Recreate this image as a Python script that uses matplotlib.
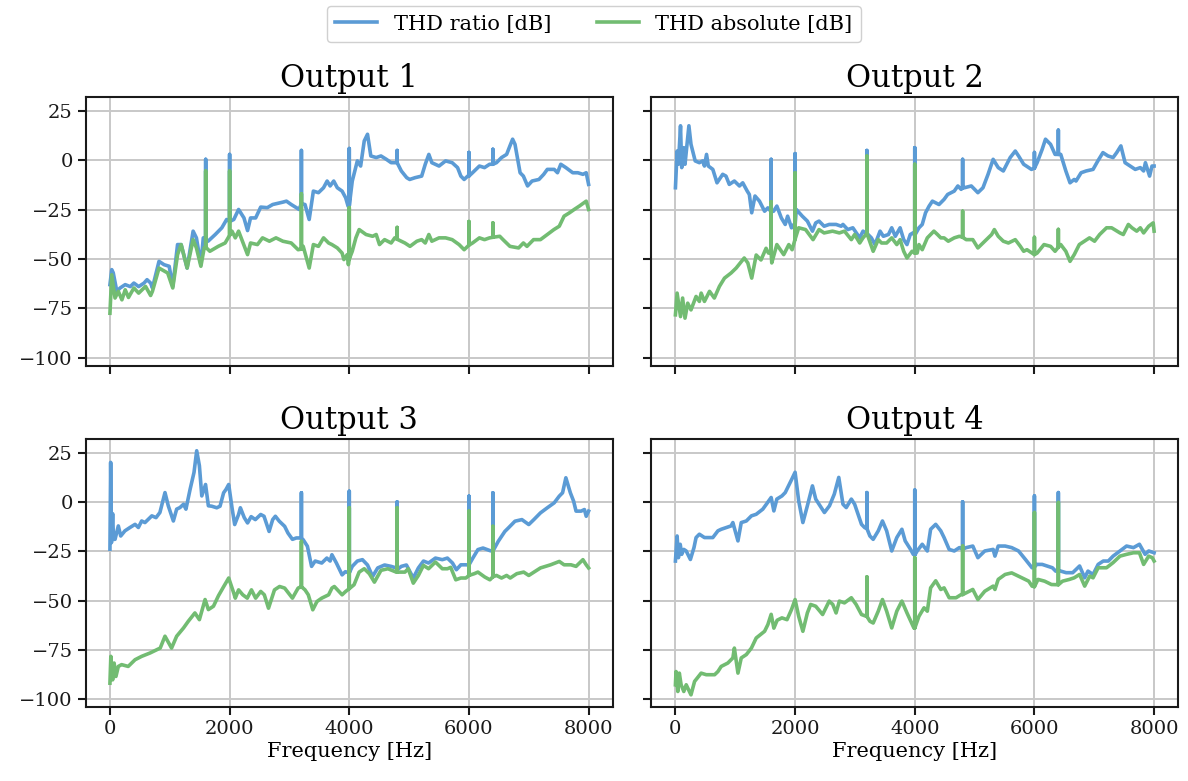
import matplotlib
matplotlib.use("Agg")
import matplotlib.pyplot as plt

plt.rcParams.update({
    "font.family": ["DejaVu Serif"],
    "axes.edgecolor": "#1a1a1a",
    "axes.linewidth": 1.5,
    "grid.color": "#c8c8c8",
    "grid.linewidth": 1.4,
    "xtick.major.width": 1.5,
    "ytick.major.width": 1.5,
    "xtick.major.size": 6,
    "ytick.major.size": 6,
    "xtick.labelsize": 14,
    "ytick.labelsize": 14,
    "xtick.color": "#1a1a1a",
    "ytick.color": "#1a1a1a",
})

BLUE = "#5b9bd5"
GREEN = "#72bc72"

TITLES = ["Output 1", "Output 2", "Output 3", "Output 4"]
SERIES_LABELS = ["THD ratio [dB]", "THD absolute [dB]"]
X_TICKS = [0, 2000, 4000, 6000, 8000]
Y_TICKS = [25, 0, -25, -50, -75, -100]

# ---- Output 1 ----
out1_ratio_f = [0, 30, 55, 115, 170, 255, 340, 400, 480, 570, 620, 680, 710, 820, 905, 990, 1050, 1130, 1190,
                1290, 1390, 1445, 1520, 1560, 1600, 1600, 1600, 1640, 1760, 1870, 1950, 2000, 2000, 2000, 2070,
                2150, 2240, 2300, 2350, 2435, 2520, 2630, 2720, 2890, 2950, 3030, 3115, 3160, 3200, 3200, 3200,
                3260, 3330, 3400, 3485, 3570, 3630, 3680, 3740, 3800, 3880, 3940, 3980, 4000, 4000, 4000, 4050,
                4135, 4190, 4250, 4305, 4360, 4450, 4530, 4620, 4700, 4790, 4800, 4800, 4800, 4870, 4960, 5010,
                5100, 5210, 5270, 5330, 5380, 5500, 5610, 5720, 5810, 5865, 5920, 5980, 6000, 6000, 6000, 6060,
                6175, 6260, 6345, 6400, 6400, 6400, 6460, 6545, 6630, 6685, 6730, 6770, 6855, 6910, 6980, 7055,
                7170, 7250, 7310, 7425, 7480, 7535, 7620, 7735, 7820, 7905, 7960, 8000]
out1_ratio_v = [-63, -55.4, -57, -66.4, -64.7, -63, -64, -62.2, -64, -62.2, -60.5, -62.2, -64.7, -51.2, -52.9,
                -53.7, -63.9, -42.7, -42.7, -54.6, -35.9, -39.3, -52.9, -39.3, -40, 0.5, -40, -41, -37.6, -34.2,
                -30, -31, 3, -31, -30, -24.9, -29.2, -35.6, -29.2, -29.2, -23.7, -24, -22.4, -21.2, -20.7, -22.4,
                -24, -24.9, -22, 5, -22, -22.4, -30, -15.6, -16.4, -13.9, -10.5, -13, -10.5, -13.9, -15.6, -19,
                -23.2, -23, 6, -23, -10.5, -0.3, -2.9, 9.8, 13.2, 2.2, 1.4, 2.2, 0.5, -1.2, -1.2, -1.2, 5, -1.2,
                -5.4, -8.8, -9.7, -8.8, -8, -2, 3, -1.2, -2.9, -0.3, -1.2, -3.7, -8, -9.7, -8, -8, 4, -8, -6.3,
                -2.9, -3.7, -2, -2, 5.6, -2, -1.2, 1.4, 3, 7.3, 10.7, 8.1, -6.3, -8, -13, -10.5, -9.7, -7.1, -4.6,
                -4.6, -6.3, -2, -3.7, -6.3, -6.3, -7.1, -6.3, -12.2]
out1_abs_f = [0, 30, 85, 140, 200, 255, 310, 400, 480, 595, 680, 710, 820, 965, 1050, 1130, 1190, 1290, 1390,
              1445, 1520, 1575, 1600, 1600, 1600, 1670, 1810, 1925, 2000, 2000, 2000, 2040, 2095, 2150, 2300,
              2350, 2465, 2550, 2665, 2775, 2890, 3030, 3145, 3200, 3200, 3200, 3230, 3330, 3400, 3485, 3570,
              3655, 3710, 3800, 3880, 3910, 3965, 3985, 4000, 4000, 4000, 4050, 4110, 4165, 4280, 4390, 4450,
              4505, 4590, 4700, 4760, 4800, 4800, 4800, 4930, 5015, 5130, 5210, 5270, 5330, 5380, 5500, 5610,
              5720, 5835, 5920, 6000, 6000, 6000, 6060, 6175, 6260, 6345, 6400, 6400, 6400, 6515, 6570, 6685,
              6830, 6910, 6970, 7080, 7195, 7310, 7420, 7510, 7590, 7680, 7760, 7845, 7960, 8000]
out1_abs_v = [-77.5, -58, -69.8, -66.4, -70.7, -65.6, -69.5, -64.7, -67.3, -63.9, -68.5, -66.4, -54.6, -57.1,
              -64.7, -47.8, -42.7, -54.6, -40.2, -44.4, -53.7, -44.4, -44, -5.4, -44, -46.1, -43.6, -41.9, -38,
              -5.4, -38, -35.9, -39.3, -35.9, -47.8, -41.9, -42.7, -39.3, -41, -39.3, -41, -41.9, -45.3, -45, -17,
              -45, -43.6, -54.6, -42.7, -43.6, -39.3, -41.9, -42.7, -44.4, -47, -50.3, -47.8, -52.9, -50, -24,
              -50, -46.1, -39.3, -35.1, -37.6, -38.5, -37.6, -42.7, -40.2, -41.9, -39.3, -40, -34, -40, -41.9,
              -43.6, -41, -40.2, -41.9, -37.6, -41, -39.3, -39.3, -40.2, -42.7, -45.3, -43, -31, -43, -41.9,
              -39.3, -40.2, -39.3, -39, -31.7, -39, -38.5, -40.2, -43.6, -44.4, -41.9, -43.6, -40.2, -40.2,
              -37.6, -35.1, -33.4, -28.3, -26.6, -24.9, -23.2, -20.7, -24.9]

# ---- Output 2 ----
out2_ratio_f = [0, 28, 50, 85, 105, 140, 160, 225, 260, 330, 400, 455, 485, 520, 550, 625, 695, 790, 845, 900,
                985, 1070, 1125, 1200, 1235, 1275, 1330, 1405, 1490, 1545, 1600, 1600, 1600, 1640, 1695, 1770,
                1835, 1875, 1940, 1980, 2000, 2000, 2000, 2020, 2120, 2205, 2290, 2345, 2400, 2485, 2570, 2685,
                2770, 2800, 2880, 2965, 3080, 3135, 3180, 3200, 3200, 3200, 3275, 3335, 3420, 3475, 3560, 3615,
                3675, 3755, 3815, 3870, 3925, 3970, 4000, 4000, 4000, 4070, 4125, 4180, 4240, 4295, 4405, 4490,
                4550, 4660, 4720, 4775, 4800, 4800, 4800, 4830, 4945, 5055, 5140, 5225, 5310, 5395, 5480, 5595,
                5680, 5735, 5820, 5950, 6000, 6000, 6000, 6045, 6130, 6185, 6270, 6345, 6400, 6400, 6400, 6440,
                6525, 6595, 6665, 6695, 6780, 6865, 6980, 7060, 7145, 7230, 7315, 7375, 7445, 7515, 7600, 7685,
                7770, 7825, 7855, 7925, 7965, 8000]
out2_ratio_v = [-13.9, 4.7, -2, 17.5, -3.7, 6.4, -2, 17.5, 8.1, -0.3, -1.2, -0.3, -2.9, 3, -2.9, -4.6, -11.4,
                -7.1, -8, -12.2, -10.5, -13, -11.4, -15.6, -17.3, -26.6, -18.1, -20.7, -25.8, -24.1, -26, 0.5,
                -26, -25.8, -23.2, -29.2, -32.5, -28.3, -34.2, -32.5, -33, 3.4, -33, -24.9, -28.3, -30.8, -35.9,
                -31.7, -30.8, -33.4, -32.5, -32.5, -33.4, -32.5, -35.1, -34.2, -39.3, -35.9, -36.8, -37, 5, -37,
                -39.3, -42.7, -35.9, -38.5, -37.6, -34.2, -38.5, -34.2, -40.2, -42.7, -37.6, -36.8, -38, 6.4, -38,
                -34.2, -32.5, -26.6, -23.2, -20.7, -22.4, -19.8, -17.3, -15.6, -13, -14.7, -14, 0.5, -14, -13.9,
                -13, -16.4, -13.9, -7.1, 0.5, -3.7, -5.4, 1.4, 4.7, 2.2, -2, -4.6, -4, 4, -4, -1.2, 5.6, 10.7,
                8.1, 3, 3, 15.3, 3, 3, -5.4, -11.4, -9.7, -10.5, -6.3, -5.4, -4.6, -0.3, 3.9, 2.2, 1.4, 3.9, 7.3,
                -1.2, -2.9, -4.6, -3.7, -5.4, -1.2, -8, -2.9, -2.9]
out2_abs_f = [0, 28, 85, 120, 160, 205, 260, 345, 400, 430, 485, 570, 650, 735, 820, 930, 1015, 1150, 1210,
              1275, 1350, 1430, 1515, 1555, 1600, 1600, 1600, 1610, 1695, 1810, 1895, 1950, 2000, 2000, 2000,
              2060, 2175, 2300, 2400, 2485, 2625, 2740, 2825, 2940, 2995, 3080, 3135, 3200, 3200, 3200, 3305,
              3390, 3445, 3530, 3615, 3700, 3755, 3815, 3870, 3955, 4000, 4000, 4000, 4040, 4070, 4125, 4210,
              4320, 4380, 4435, 4490, 4560, 4660, 4745, 4800, 4800, 4800, 4860, 4970, 5055, 5170, 5285, 5330,
              5395, 5480, 5565, 5680, 5765, 5820, 5875, 6000, 6000, 6000, 6045, 6160, 6270, 6345, 6400, 6400,
              6400, 6440, 6525, 6595, 6665, 6750, 6835, 6920, 7005, 7090, 7205, 7290, 7430, 7485, 7570, 7630,
              7710, 7770, 7825, 7910, 7985, 8000]
out2_abs_v = [-78.3, -67.3, -79.2, -69.8, -80, -72.4, -75.8, -69, -71.5, -67.3, -71.5, -66.4, -69.8, -63.9,
              -59.7, -57.1, -54.6, -49.5, -52, -59.7, -48, -50.5, -44.6, -47, -47, -21, -47, -52, -42.7, -47.8,
              -42.7, -45.3, -40, -6.3, -40, -34.2, -35.1, -40.2, -35.1, -36.8, -35.9, -36.8, -35.9, -40.2, -37.6,
              -41.9, -39.3, -37, 2.2, -37, -46.1, -40.2, -41.9, -41.9, -39.3, -42.7, -40.2, -46.1, -49.5, -46.1,
              -47, -2, -47, -47, -42.7, -45.3, -39.3, -35.9, -37.6, -39.3, -39.3, -41, -39.3, -38.5, -39, -25.8,
              -39, -40.2, -40.2, -44.4, -41, -37.6, -35.1, -38.5, -41, -41.9, -40.2, -43.6, -46.1, -45.3, -47.8,
              -39, -47.8, -47, -42.7, -43.6, -46.1, -44, -35, -44, -42.7, -46.1, -51.2, -47.8, -42.7, -41, -39.3,
              -41, -37.6, -34.2, -34.2, -36.8, -37.6, -32.5, -34.2, -35.9, -34.2, -36.8, -33.4, -31.7, -35.9]

# ---- Output 3 ----
out3_ratio_f = [0, 12, 25, 45, 60, 85, 140, 180, 250, 335, 420, 475, 530, 585, 700, 770, 835, 920, 975, 1060,
                1115, 1170, 1230, 1270, 1340, 1405, 1450, 1495, 1535, 1598, 1645, 1700, 1785, 1840, 1900, 1940,
                1985, 2040, 2085, 2150, 2180, 2245, 2300, 2360, 2430, 2520, 2575, 2660, 2720, 2765, 2830, 2920,
                2975, 3050, 3115, 3170, 3200, 3200, 3200, 3230, 3300, 3370, 3430, 3540, 3625, 3680, 3710, 3785,
                3880, 3935, 4000, 4000, 4000, 4050, 4135, 4220, 4305, 4390, 4475, 4590, 4700, 4785, 4800, 4800,
                4800, 4870, 4955, 5070, 5155, 5240, 5325, 5440, 5555, 5640, 5725, 5790, 5865, 5950, 6000, 6000,
                6000, 6065, 6150, 6235, 6350, 6400, 6400, 6400, 6490, 6600, 6660, 6770, 6885, 7000, 7085, 7195,
                7310, 7425, 7510, 7565, 7620, 7695, 7750, 7790, 7875, 7930, 7960, 8000]
out3_ratio_v = [-24, 20, -20.7, -6, -19, -19, -12.2, -17.3, -14.7, -13, -11.4, -13, -9.7, -10.5, -7.1, -8,
                -5.4, 4.7, -2, -9.7, -3.7, -2.9, -1.2, -3.7, 6.4, 14.9, 25.9, 18.3, 3, 8.8, -2, -2.2, -3, -2.2,
                4.6, 6.3, 8.8, -3, -11.5, -6.4, -3, -8, -10.7, -7.5, -9, -6.4, -7.3, -15, -9, -7.3, -9.8, -12.4,
                -15.8, -19, -18.3, -18.3, -18.5, 4.6, -18.5, -19.2, -22.5, -32.7, -30, -31, -28.5, -30, -26.8,
                -31, -37, -35.4, -36, 5.4, -36, -32.7, -30, -29.3, -32, -37.8, -33.5, -32, -32.7, -33.5, -34.4, 0,
                -34.4, -32.7, -32, -38.6, -33.5, -30, -31, -28.5, -29.3, -28.5, -31, -34.4, -31.9, -31.9, -32,
                2.9, -32, -28.5, -24.2, -23.4, -24.7, -25, 4.6, -25, -20, -15, -13.2, -9.8, -9, -11.5, -9, -5.6,
                -3, -0.5, 2.9, 4.6, 12.2, 4.6, 0.3, -4.7, -4.7, -3.9, -7.3, -4.7]
out3_abs_f = [0, 15, 45, 70, 100, 140, 195, 305, 420, 530, 670, 840, 920, 1030, 1115, 1230, 1310, 1420, 1495,
              1590, 1645, 1730, 1815, 1900, 1985, 2070, 2095, 2150, 2220, 2295, 2365, 2435, 2520, 2580, 2650,
              2750, 2835, 2920, 3050, 3145, 3200, 3200, 3200, 3260, 3315, 3390, 3460, 3540, 3655, 3710, 3750,
              3880, 3940, 4000, 4000, 4000, 4080, 4165, 4250, 4335, 4420, 4530, 4645, 4785, 4800, 4800, 4800,
              4930, 4985, 5070, 5155, 5240, 5325, 5440, 5555, 5640, 5695, 5780, 5865, 5950, 6000, 6000, 6000,
              6090, 6150, 6265, 6350, 6400, 6400, 6400, 6460, 6545, 6630, 6690, 6800, 6915, 7000, 7195, 7365,
              7510, 7590, 7705, 7790, 7905, 7960, 8000]
out3_abs_v = [-91.9, -78.3, -90.2, -81.7, -88.5, -83.4, -82.5, -83.4, -80, -78.3, -76.6, -74.1, -68.1, -74.1,
              -68.1, -63.9, -60.5, -56.3, -59.7, -49.5, -54.6, -52.9, -47.5, -43, -38.6, -46.3, -48.8, -44.6,
              -47.1, -48.8, -44.6, -48.8, -45.4, -47.1, -53.9, -44.6, -42.9, -43.7, -48.8, -43.7, -43, -20, -43,
              -44.6, -47.1, -54.7, -50.5, -48.8, -47.1, -43.7, -42.9, -47.1, -45.4, -44, -3, -44, -42, -35.6,
              -33.9, -36.4, -40.7, -34.7, -33.9, -35.6, -35.6, -3, -35.6, -35.6, -33.9, -41.2, -37.3, -32.2,
              -33.9, -30.5, -33.9, -33.9, -33.2, -39.5, -38.6, -38.6, -37.3, -4.7, -37.3, -36.4, -35.6, -38.1,
              -39.5, -38, -12.4, -38, -37.3, -38.6, -37.3, -38.6, -36.4, -35.6, -37.3, -33.5, -31.9, -30.2,
              -31.9, -31.9, -32.7, -29.3, -31.9, -33.5]

# ---- Output 4 ----
out4_ratio_f = [0, 28, 50, 80, 105, 140, 180, 250, 310, 345, 400, 485, 625, 710, 765, 930, 960, 1045, 1100,
                1185, 1270, 1350, 1460, 1520, 1600, 1645, 1695, 1780, 1835, 1890, 1945, 2000, 2060, 2130, 2205,
                2290, 2345, 2400, 2490, 2575, 2655, 2730, 2800, 2855, 2940, 2995, 3110, 3165, 3200, 3200, 3200,
                3250, 3305, 3390, 3460, 3530, 3615, 3700, 3785, 3840, 3930, 3975, 4000, 4000, 4000, 4040, 4125,
                4210, 4265, 4350, 4435, 4490, 4575, 4660, 4745, 4800, 4800, 4800, 4860, 4970, 5055, 5170, 5310,
                5340, 5395, 5510, 5620, 5735, 5850, 5960, 6000, 6000, 6000, 6040, 6130, 6210, 6300, 6355, 6400,
                6400, 6400, 6440, 6530, 6640, 6725, 6755, 6840, 6895, 6980, 7065, 7150, 7235, 7315, 7430, 7540,
                7655, 7755, 7850, 7910, 8000]
out4_ratio_v = [-30, -17.3, -28.3, -21.5, -26.6, -24.1, -24.9, -29.2, -23.2, -18.1, -16.4, -18.1, -18.1,
                -14.7, -13.9, -12.2, -10.5, -19.8, -10.5, -9.7, -7.1, -6.3, -3.7, -1.2, 2.2, -4.6, 1.4, 3, 4.7,
                8.1, 11.5, 15, 0.5, -10.5, -2, 8.1, 1.4, -1.2, -5.4, -2, 3.9, 12.4, -1.2, -2.9, 1.4, -1.2, -11.4,
                -13.1, -13.5, 4.7, -13.5, -17.3, -19, -14.7, -9.7, -14.7, -24.9, -18.1, -13.9, -19.8, -24.1,
                -26.6, -27, 6, -27, -24.9, -21.5, -24.9, -13.9, -11.4, -14.7, -18.1, -24.1, -24.9, -23.2, -24, 0,
                -24, -23.2, -22.4, -28.3, -24.9, -24.1, -27.5, -22.4, -22.4, -23.2, -24.9, -29.2, -33.4, -33, 3,
                -33, -31.7, -31.7, -32.5, -33.4, -35.1, -35, 4.7, -35, -35.1, -35.9, -35.9, -33.4, -32.5, -38.5,
                -35.1, -36.8, -31.7, -30, -30, -27.5, -24.9, -22.4, -23.2, -21.5, -26.6, -24.9, -25.8]
out4_abs_f = [0, 10, 40, 65, 95, 140, 180, 260, 320, 430, 515, 655, 710, 765, 875, 960, 985, 1045, 1100, 1185,
              1270, 1350, 1490, 1545, 1600, 1645, 1700, 1780, 1865, 1940, 2000, 2060, 2130, 2205, 2260, 2345,
              2460, 2570, 2630, 2685, 2740, 2825, 2940, 3020, 3110, 3190, 3200, 3200, 3200, 3250, 3305, 3390,
              3460, 3530, 3615, 3700, 3785, 3870, 3985, 4000, 4000, 4000, 4070, 4155, 4210, 4265, 4350, 4435,
              4490, 4575, 4690, 4775, 4800, 4800, 4800, 4860, 4970, 5055, 5170, 5310, 5340, 5395, 5510, 5620,
              5790, 5905, 5960, 6000, 6000, 6000, 6060, 6170, 6285, 6400, 6400, 6400, 6470, 6585, 6665, 6755,
              6840, 6925, 6980, 7065, 7205, 7315, 7430, 7540, 7655, 7755, 7825, 7910, 7970, 8000]
out4_abs_v = [-92.7, -86, -96.1, -86.8, -92.7, -96.1, -92.7, -97.8, -91, -86.8, -87.6, -87.6, -86, -83.4,
              -81.7, -79.1, -74.1, -86.8, -79.1, -77.4, -74.1, -69, -65.6, -62.2, -57, -64, -60, -58.8, -59.7,
              -54.6, -49.5, -58, -65.6, -56.3, -52, -52.9, -57.1, -50.3, -52, -56.3, -50.3, -51.2, -48.6, -52,
              -57.1, -58, -58, -38, -58, -60.5, -61.4, -55.4, -49.5, -55.4, -63.9, -55.4, -50.3, -56.3, -63.9,
              -64, -28.3, -64, -58, -53.7, -55.4, -43.6, -40, -44.4, -43.6, -48.6, -48.6, -47, -47, -22.4, -47,
              -46.1, -44.4, -49.5, -45.3, -42.7, -44.4, -39.3, -36.8, -36, -38.5, -40.2, -42.7, -43, -5.4, -43,
              -39.3, -40.2, -41.9, -42, -0.3, -42, -40.2, -39.3, -38.5, -36.8, -42.7, -37.6, -38.5, -33.4,
              -33.4, -30.8, -27.5, -26.6, -25.8, -25.8, -31.7, -27.5, -28.3, -30]

panels = [
    (out1_ratio_f, out1_ratio_v, out1_abs_f, out1_abs_v),
    (out2_ratio_f, out2_ratio_v, out2_abs_f, out2_abs_v),
    (out3_ratio_f, out3_ratio_v, out3_abs_f, out3_abs_v),
    (out4_ratio_f, out4_ratio_v, out4_abs_f, out4_abs_v),
]

fig, axes = plt.subplots(2, 2, figsize=(11.88, 7.81), dpi=100, sharex=True, sharey=True)
fig.subplots_adjust(left=0.0724, right=0.9916, top=0.8758, bottom=0.0947, wspace=0.074, hspace=0.272)

handles = None
for ax, title, (rf, rv, af, av) in zip(axes.flat, TITLES, panels):
    ax.grid(True, zorder=0)
    h1, = ax.plot(rf, rv, color=BLUE, lw=2.6, label=SERIES_LABELS[0], zorder=2)
    h2, = ax.plot(af, av, color=GREEN, lw=2.6, label=SERIES_LABELS[1], zorder=3)
    handles = [h1, h2]
    ax.set_title(title, fontsize=22, pad=7)
    ax.set_xticks(X_TICKS)
    ax.set_yticks(Y_TICKS)
    for sp in ax.spines.values():
        sp.set_linewidth(1.5)

for ax in axes[1]:
    ax.set_xlabel("Frequency [Hz]", fontsize=15, labelpad=3)

fig.legend(handles, SERIES_LABELS, loc="upper center", bbox_to_anchor=(0.5, 1.0), ncol=2,
           fontsize=15, frameon=True, fancybox=True, edgecolor="#d0d0d0", framealpha=1,
           handlelength=2.0, columnspacing=2.2, borderpad=0.4, borderaxespad=0.3)

fig.savefig("out.png", dpi=100)
